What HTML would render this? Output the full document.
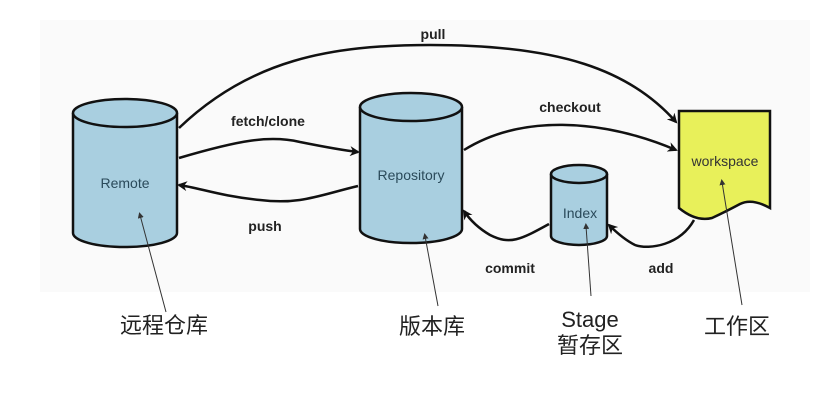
<!DOCTYPE html>
<html><head><meta charset="utf-8"><style>
html,body{margin:0;padding:0;background:#fff;}
svg{display:block}
</style></head><body>
<svg width="838" height="407" viewBox="0 0 838 407" xmlns="http://www.w3.org/2000/svg">
<defs>
<marker id="ah" markerWidth="10" markerHeight="10" refX="8" refY="5" orient="auto" markerUnits="userSpaceOnUse">
<path d="M0,0 L10,5 L0,10 L3,5 Z" fill="#111"/></marker>
<marker id="sa" markerWidth="6" markerHeight="6" refX="3" refY="3" orient="auto" markerUnits="userSpaceOnUse">
<path d="M0,0 L6,3 L0,6 Z" fill="#333"/></marker>
</defs>
<rect x="40" y="20" width="770" height="272" fill="#fafafa"/>
<g stroke="#111" stroke-width="2.5" fill="#a9cfe0">
<!-- Remote -->
<path d="M73,113 L73,233 A52,14 0 0 0 177,233 L177,113"/>
<ellipse cx="125" cy="113" rx="52" ry="14"/>
<!-- Repository -->
<path d="M360,107 L360,229 A51,14 0 0 0 462,229 L462,107"/>
<ellipse cx="411" cy="107" rx="51" ry="14"/>
<!-- Index -->
<path d="M551,174 L551,236 A28,9 0 0 0 607,236 L607,174"/>
<ellipse cx="579" cy="174" rx="28" ry="9"/>
<!-- workspace -->
<path d="M679,111 L770,111 L770,208 Q752,198 740,204 Q725,212 712,218 Q696,222 679,208 Z" fill="#e8f05a"/>
</g>
<g stroke="#111" stroke-width="2.5" fill="none">
<path d="M179,128 C250,60 330,45 430,45 C560,45 630,70 676,122" marker-end="url(#ah)"/>
<path d="M464,150 C520,115 600,118 676,150" marker-end="url(#ah)"/>
<path d="M179,158 C240,140 270,135 300,142 C320,146 340,150 358,152" marker-end="url(#ah)"/>
<path d="M358,186 C320,195 300,205 260,200 C220,196 200,188 179,185" marker-end="url(#ah)"/>
<path d="M549,224 C520,240 510,245 490,235 C478,228 470,220 464,211" marker-end="url(#ah)"/>
<path d="M694,220 C680,245 650,250 635,245 C625,240 616,232 609,225" marker-end="url(#ah)"/>
</g>
<g stroke="#333" stroke-width="1" fill="none">
<path d="M166,312 L140,215" marker-end="url(#sa)"/>
<path d="M438,306 L425,236" marker-end="url(#sa)"/>
<path d="M591,296 L586,226" marker-end="url(#sa)"/>
<path d="M742,305 L722,182" marker-end="url(#sa)"/>
</g>
<g font-family="Liberation Sans, sans-serif" font-weight="bold" font-size="14" fill="#222" text-anchor="middle">
<text x="433" y="39">pull</text>
<text x="268" y="126">fetch/clone</text>
<text x="265" y="231">push</text>
<text x="570" y="112">checkout</text>
<text x="510" y="273">commit</text>
<text x="661" y="273">add</text>
</g>
<g font-family="Liberation Sans, sans-serif" font-size="14" fill="#2a4a5a" text-anchor="middle">
<text x="125" y="188">Remote</text>
<text x="411" y="180">Repository</text>
<text x="580" y="218">Index</text>
<text x="725" y="166" fill="#333">workspace</text>
</g>
<g font-family="Liberation Sans, 'Noto Sans CJK SC', sans-serif" font-size="22" fill="#222" text-anchor="middle">
<text x="164" y="333">远程仓库</text>
<text x="432" y="334">版本库</text>
<text x="590" y="327">Stage</text>
<text x="590" y="353">暂存区</text>
<text x="737" y="334">工作区</text>
</g>
</svg>
</body></html>
